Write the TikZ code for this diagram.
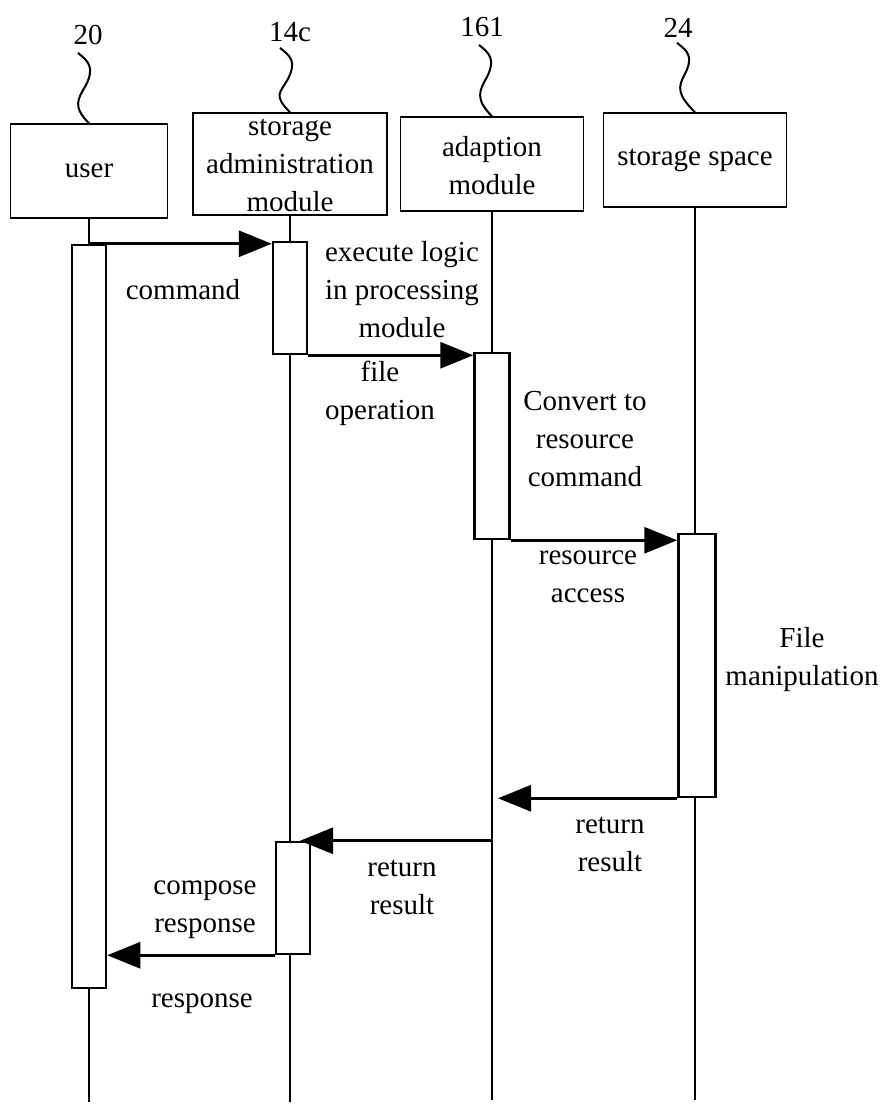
\documentclass[tikz,border=0pt]{standalone}
\usepackage{fontspec}
\setmainfont{Liberation Serif}
\usetikzlibrary{arrows.meta}
\begin{document}
\begin{tikzpicture}[x=1pt,y=-1pt,
  txt/.style={font=\fontsize{29}{38}\selectfont, align=center, inner sep=0pt},
  reflabel/.style={font=\fontsize{29}{34}\selectfont, inner sep=2pt},
  objbox/.style={draw, line width=1.5pt, inner sep=0pt},
  actbar/.style={draw, fill=white, line width=2.5pt, minimum width=34pt, inner sep=0pt},
  life/.style={line width=2.5pt},
  msg/.style={line width=3pt, -{Triangle[length=33pt,width=26pt]}},
  wave/.style={line width=2pt}
]
\useasboundingbox (0,0) rectangle (886,1106);

% object boxes
\node[objbox, minimum width=157pt, minimum height=94pt] (user) at (89,171) {};
\node[objbox, minimum width=194pt, minimum height=102pt] (admin) at (290,164) {};
\node[objbox, minimum width=183pt, minimum height=94pt] (adapt) at (492,164) {};
\node[objbox, minimum width=183pt, minimum height=94pt] (space) at (695,160) {};

\node[txt] (userT) at (user.center) {user};
\node[txt] (adminT) at (290,165) {storage\\administration\\module};
\node[txt] (adaptT) at (492,166) {adaption\\module};
\node[txt] (spaceT) at (space.center) {storage space};

% reference labels
\node[reflabel] (l20) at (88,35) {20};
\node[reflabel] (l14) at (290,32) {14c};
\node[reflabel] (l161) at (482,27) {161};
\node[reflabel] (l24) at (678,28) {24};

\draw[wave] ([xshift=-10pt,yshift=-6pt]l20.south) .. controls +(10,8) and +(9,-18) .. ++(8,32) .. controls +(-8,14) and +(-17,-17) .. (user.north);
\draw[wave] ([xshift=-10pt,yshift=-4pt]l14.south) .. controls +(10,8) and +(9,-18) .. ++(8,31) .. controls +(-8,14) and +(-17,-17) .. (admin.north);
\draw[wave] ([xshift=-3pt,yshift=-6pt]l161.south) .. controls +(10,8) and +(9,-18) .. ++(8,32) .. controls +(-8,14) and +(-17,-17) .. (adapt.north);
\draw[wave] ([xshift=-1pt,yshift=-3pt]l24.south) .. controls +(10,8) and +(9,-18) .. ++(8,31) .. controls +(-8,14) and +(-17,-17) .. (space.north);

% lifelines
\coordinate (uEnd) at (89,1102);
\coordinate (aEnd) at (290,1102);
\coordinate (dEnd) at (492,1100);
\coordinate (sEnd) at (695,1100);
\draw[life] (user.south) -- (uEnd);
\draw[life] (admin.south) -- (aEnd);
\draw[life] (adapt.south) -- (dEnd);
\draw[life] (space.south) -- (sEnd);

% activation bars
\node[actbar, minimum height=743pt] (ubar) at (89,616.5) {};
\node[actbar, minimum height=112pt] (ab1) at (290,298) {};
\node[actbar, minimum width=35pt, minimum height=186pt] (dbar) at (492,446) {};
\node[actbar, minimum width=37pt, minimum height=263pt] (sbar) at (697,665.5) {};
\node[actbar, minimum height=112pt] (ab2) at (293,898) {};

% messages
\draw[msg] (ubar.north) -- (ubar.north -| ab1.west);
\draw[msg] (ab1.south east) -- (ab1.south east -| dbar.west);
\draw[msg] (dbar.south east) -- (dbar.south east -| sbar.west);
\draw[msg] (sbar.south west) -- ([xshift=6pt]sbar.south west -| dEnd);
\draw[msg] (ab2.north -| dEnd) -- ([xshift=7pt]ab2.north);
\draw[msg] (ab2.south west) -- (ab2.south west -| ubar.east);

% message and activity texts
\node[txt] (tCmd) at (183,290) {command};
\node[txt] (tExec) at (402,290) {execute logic\\in processing\\module};
\node[txt] (tFile) at (380,393) {file\\operation};
\node[txt] (tConv) at (585,439) {Convert to\\resource\\command};
\node[txt] (tRes) at (588,577) {resource\\access};
\node[txt] (tMan) at (802,660) {File\\manipulation};
\node[txt] (tRet1) at (610,844) {return\\result};
\node[txt] (tRet2) at (402,887) {return\\result};
\node[txt] (tComp) at (205,910) {compose\\response};
\node[txt] (tResp) at (202,1004) {response};
\end{tikzpicture}
\end{document}
